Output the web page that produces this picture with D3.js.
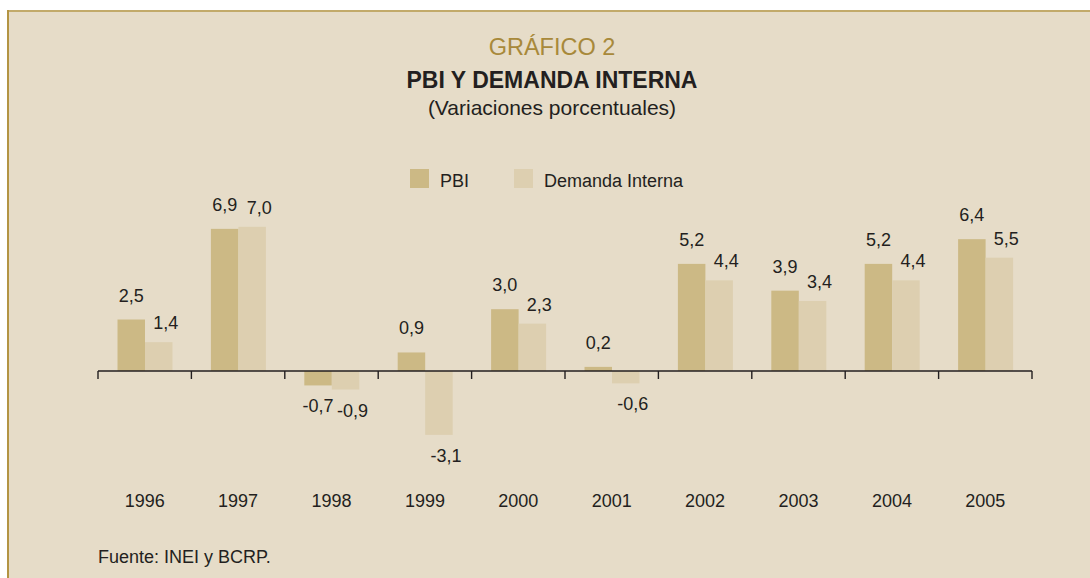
<!DOCTYPE html>
<html>
<head>
<meta charset="utf-8">
<script src="https://cdn.jsdelivr.net/npm/d3@7"></script>
<style>
  html, body { margin: 0; padding: 0; background: #ffffff; }
  svg { display: block; }
  text { font-family: "Liberation Sans", Arial, Helvetica, sans-serif; fill: #231f20; }
</style>
</head>
<body>
<svg id="chart" width="1090" height="578"></svg>
<script>
const years = ["1996","1997","1998","1999","2000","2001","2002","2003","2004","2005"];
const pbi = [2.5, 6.9, -0.7, 0.9, 3.0, 0.2, 5.2, 3.9, 5.2, 6.4];
const demanda = [1.4, 7.0, -0.9, -3.1, 2.3, -0.6, 4.4, 3.4, 4.4, 5.5];
const seriesNames = ["PBI", "Demanda Interna"];
const seriesColors = ["#ccb985", "#ddcfb0"];

const fmt = v => v.toFixed(1).replace(".", ",");

const svg = d3.select("#chart");
const W = 1090, H = 578;

// panel background and border
svg.append("rect").attr("x", 8).attr("y", 10).attr("width", W - 8).attr("height", H - 10).attr("fill", "#e6dcc8");
svg.append("line").attr("x1", 7).attr("x2", W).attr("y1", 11).attr("y2", 11).attr("stroke", "#c2aa6a").attr("stroke-width", 2);
svg.append("line").attr("x1", 8).attr("x2", 8).attr("y1", 10).attr("y2", H).attr("stroke", "#b39443").attr("stroke-width", 2);

// titles
const cx = 552;
svg.append("text").attr("x", cx).attr("y", 55).attr("text-anchor", "middle")
  .style("font-size", "23.5px").style("fill", "#a8893a").text("GRÁFICO 2");
svg.append("text").attr("x", cx).attr("y", 88).attr("text-anchor", "middle")
  .style("font-size", "23px").style("font-weight", "bold").text("PBI Y DEMANDA INTERNA");
svg.append("text").attr("x", cx).attr("y", 115).attr("text-anchor", "middle")
  .style("font-size", "21px").text("(Variaciones porcentuales)");

// legend
const legendX = [410, 514];
seriesNames.forEach((n, i) => {
  svg.append("rect").attr("x", legendX[i]).attr("y", 169).attr("width", 19).attr("height", 19).attr("fill", seriesColors[i]);
  svg.append("text").attr("x", legendX[i] + 30).attr("y", 187).style("font-size", "18px").text(n);
});

// scales
const x0 = d3.scaleBand().domain(years).range([98, 1032]).paddingInner(0).paddingOuter(0);
const x1 = d3.scaleBand().domain(seriesNames).range([19.5, 74.5]);
const zeroY = 371, unit = 20.6;
const y = d3.scaleLinear().domain([-4, 8]).range([zeroY + 4 * unit, zeroY - 8 * unit]);

const data = years.map((yr, i) => ({ year: yr, values: [pbi[i], demanda[i]] }));

const groups = svg.append("g").selectAll("g").data(data).join("g")
  .attr("transform", d => `translate(${x0(d.year)},0)`);

groups.selectAll("rect").data(d => d.values.map((v, i) => ({ v, i })))
  .join("rect")
  .attr("x", d => x1(seriesNames[d.i]))
  .attr("width", x1.bandwidth())
  .attr("y", d => y(Math.max(0, d.v)))
  .attr("height", d => Math.abs(y(d.v) - y(0)))
  .attr("fill", d => seriesColors[d.i]);

groups.selectAll("text.val").data(d => d.values.map((v, i) => ({ v, i })))
  .join("text").attr("class", "val")
  .attr("text-anchor", "middle")
  .style("font-size", "18px")
  .attr("x", d => x1(seriesNames[d.i]) + x1.bandwidth() / 2 + (d.i === 1 ? 7 : 0))
  .attr("y", d => d.v >= 0 ? y(d.v) - (d.i === 0 ? 18 : 13) : y(d.v) + 27)
  .text(d => fmt(d.v));

// axis
const axis = d3.axisBottom(x0).tickSize(0).tickFormat("");
const axG = svg.append("g").attr("transform", `translate(0,${zeroY})`).call(axis);
axG.select(".domain").attr("stroke", "#231f20").attr("stroke-width", 1.4).attr("d", "M98,0H1032");
const boundaries = years.map(yr => x0(yr)).concat([x0.range()[1]]);
axG.selectAll("line.tk").data(boundaries).join("line").attr("class", "tk")
  .attr("x1", d => d).attr("x2", d => d).attr("y1", 0).attr("y2", 8)
  .attr("stroke", "#231f20").attr("stroke-width", 1.4);

// year labels
svg.append("g").selectAll("text").data(years).join("text")
  .attr("x", d => x0(d) + x0.bandwidth() / 2)
  .attr("y", 507)
  .attr("text-anchor", "middle")
  .style("font-size", "18px")
  .text(d => d);

// source
svg.append("text").attr("x", 98).attr("y", 563).style("font-size", "18px").text("Fuente: INEI y BCRP.");
</script>
</body>
</html>
